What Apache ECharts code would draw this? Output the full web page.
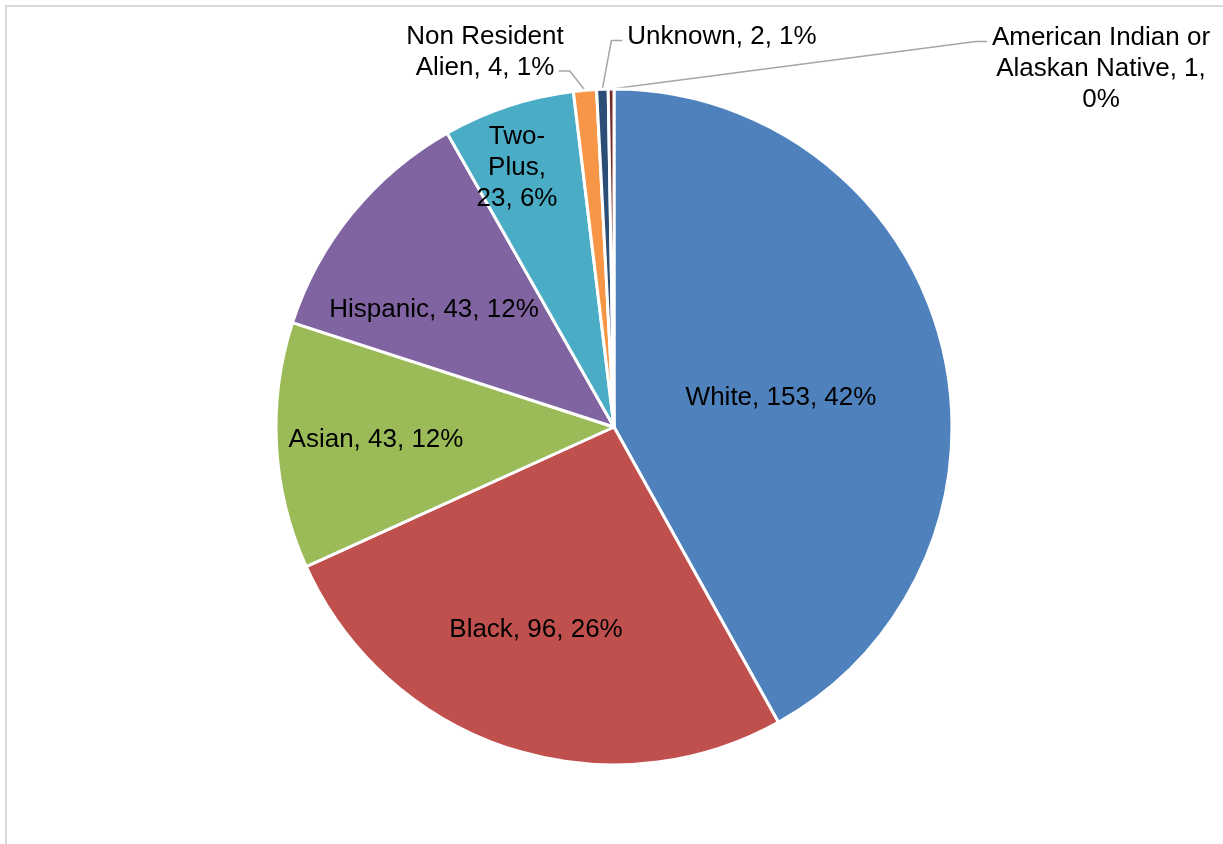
<!DOCTYPE html>
<html>
<head>
<meta charset="utf-8">
<title>Enrollment by Race / Ethnicity</title>
<script src="https://cdn.jsdelivr.net/npm/echarts@6/dist/echarts.min.js"></script>
<style>
  html, body { margin: 0; padding: 0; background: #ffffff; }
  #chart { width: 1223px; height: 844px; }
</style>
</head>
<body>
<div id="chart"></div>
<script>
// Categories and head counts, in clockwise order from twelve o'clock
const categories = [
  'White', 'Black', 'Asian', 'Hispanic', 'Two-Plus',
  'Non Resident Alien', 'Unknown', 'American Indian or Alaskan Native'
];
const counts = [153, 96, 43, 43, 23, 4, 2, 1];

// Slice colours (Office palette)
const colors = ['#4F81BD', '#C0504D', '#9BBB59', '#8064A2', '#4BACC6', '#F79646', '#2C4D75', '#772C2A'];

// Pie geometry
const CX = 614, CY = 427, R = 338;
const FONT = 26, LINE_H = 31;
const TEXT_SHIFT_Y = 2;

// Label placement, relative to the pie centre; wrap = max characters per line
const labelStyle = {
  'White':              { at: [167, -31],  inside: true,  wrap: 99 },
  'Black':              { at: [-78, 201],  inside: true,  wrap: 99 },
  'Asian':              { at: [-238, 11],  inside: true,  wrap: 99 },
  'Hispanic':           { at: [-180, -119], inside: true, wrap: 99 },
  'Two-Plus':           { at: [-97, -261], inside: true,  wrap: 6 },
  'Non Resident Alien': { at: [-129, -377], inside: false, wrap: 12, side: 'right', line: 1, gap: -5 },
  'Unknown':            { at: [108, -392], inside: false, wrap: 99, side: 'left',  line: 0, gap: 5 },
  'American Indian or Alaskan Native': { at: [487, -360], inside: false, wrap: 18, side: 'left', line: 0, gap: 5 }
};

const total = counts.reduce((a, b) => a + b, 0);

// Greedy word wrap that may also break after a hyphen
function wrapText(text, max) {
  const tokens = text.match(/[^ -]+-?/g) || [];
  const lines = [];
  let line = '';
  tokens.forEach(tok => {
    const cand = line ? line + (line.endsWith('-') ? '' : ' ') + tok : tok;
    if (cand.length > max && line) { lines.push(line); line = tok; }
    else line = cand;
  });
  if (line) lines.push(line);
  return lines;
}

function labelLines(i) {
  const name = categories[i];
  const pct = Math.round(counts[i] / total * 100);
  return wrapText(name + ', ' + counts[i] + ', ' + pct + '%', labelStyle[name].wrap);
}

// Mid angle of each slice, measured clockwise from twelve o'clock (radians)
const midAngles = [];
(function () {
  let acc = 0;
  counts.forEach(v => { midAngles.push((acc + v / 2) / total * 2 * Math.PI); acc += v; });
})();

const chart = echarts.init(document.getElementById('chart'), null, { renderer: 'canvas' });

chart.setOption({
  backgroundColor: '#ffffff',
  animation: false,
  graphic: [{
    type: 'rect',
    silent: true,
    z: -10,
    shape: { x: 6, y: 6, width: 1400, height: 1000 },
    style: { fill: 'none', stroke: '#d9d9d9', lineWidth: 2 }
  }],
  series: [{
    type: 'pie',
    center: [CX, CY],
    radius: R,
    startAngle: 90,
    clockwise: true,
    avoidLabelOverlap: false,
    emphasis: { disabled: true },
    itemStyle: { borderColor: '#ffffff', borderWidth: 3 },
    label: {
      fontFamily: '"Liberation Sans", Arial, sans-serif',
      fontSize: FONT,
      lineHeight: LINE_H,
      color: '#000000',
      align: 'center',
      formatter: p => labelLines(p.dataIndex).join('\n')
    },
    labelLine: {
      length: 10,
      length2: 10,
      lineStyle: { color: '#a6a6a6', width: 1.5 }
    },
    labelLayout: function (params) {
      const i = params.dataIndex;
      const st = labelStyle[categories[i]];
      const x = CX + st.at[0];
      const y = CY + st.at[1];
      const out = { x: x, y: y + TEXT_SHIFT_Y, align: 'center', verticalAlign: 'middle' };
      if (!st.inside) {
        const n = labelLines(i).length;
        const w = params.labelRect.width;
        const top = y - n * LINE_H / 2;
        const ly = top + (st.line + 0.68) * LINE_H;
        const ex = st.side === 'right' ? x + w / 2 + st.gap : x - w / 2 - st.gap;
        const bx = st.side === 'right' ? ex + 11 : ex - 11;
        const a = midAngles[i];
        const px = CX + R * Math.sin(a);
        const py = CY - R * Math.cos(a);
        out.labelLinePoints = [[px, py], [bx, ly], [ex, ly]];
      }
      return out;
    },
    data: categories.map((name, i) => ({
      name: name,
      value: counts[i],
      itemStyle: { color: colors[i] },
      label: { position: labelStyle[name].inside ? 'inside' : 'outside' },
      labelLine: { show: !labelStyle[name].inside }
    }))
  }]
});
</script>
</body>
</html>
